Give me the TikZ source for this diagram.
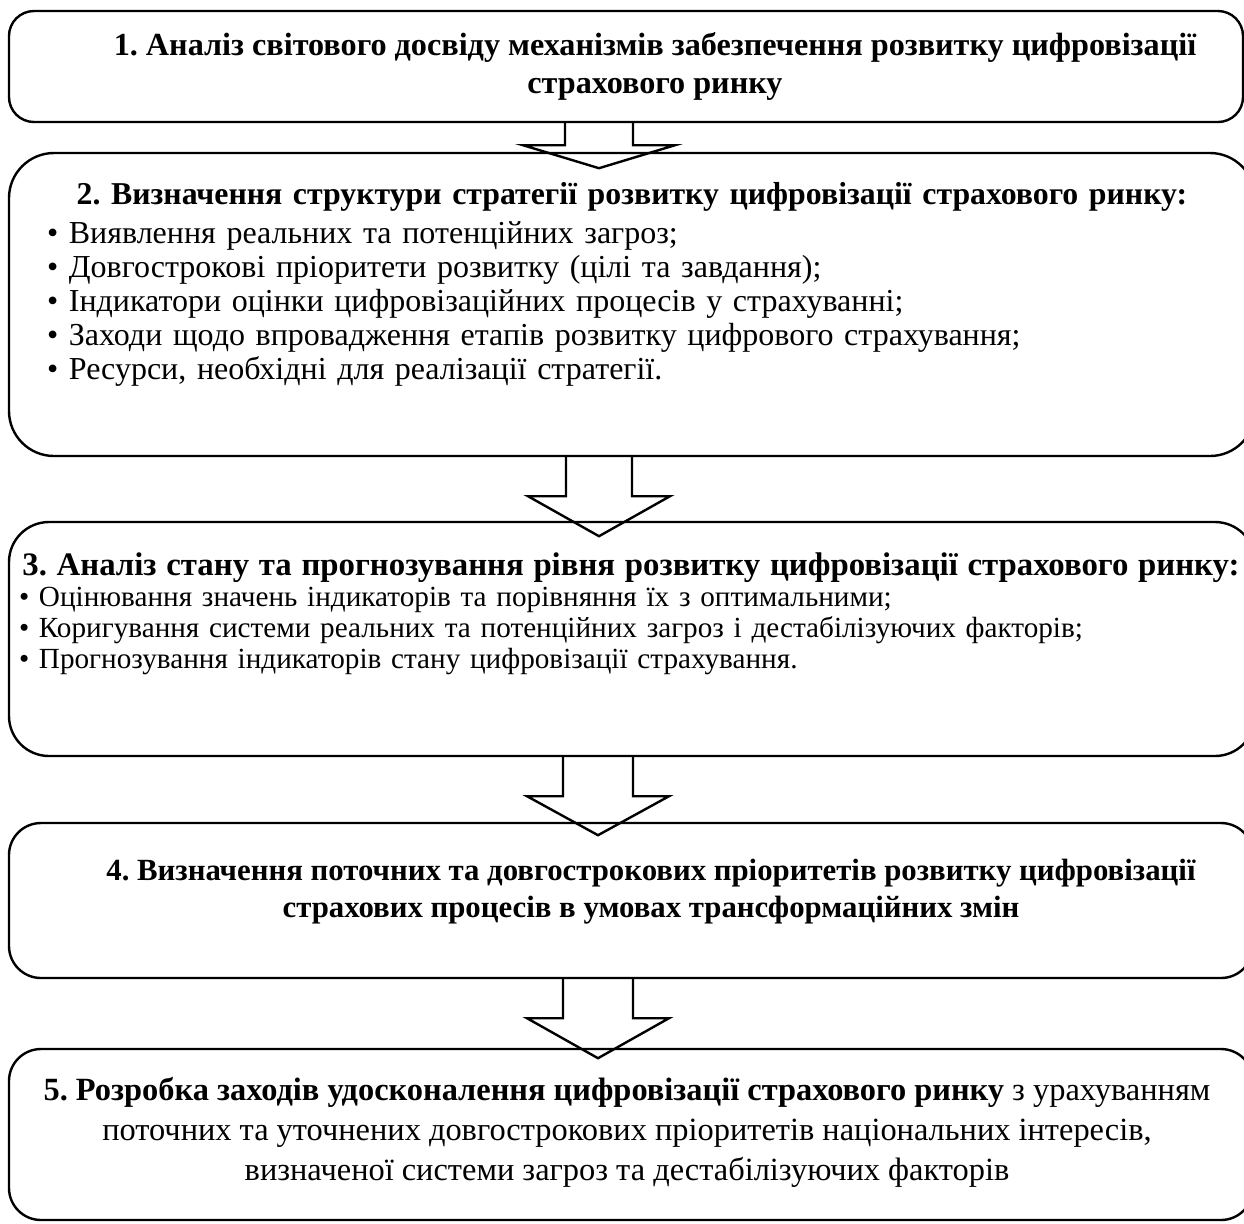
\documentclass[tikz,border=0pt]{standalone}
\usepackage{fontspec}
\setmainfont{Liberation Serif}
\frenchspacing

\begin{document}
\begin{tikzpicture}[x=0.5pt, y=-0.5pt,
		box/.style={draw, line width=1.2pt, inner sep=0pt},
		txt/.style={inner sep=0pt, align=center},
		fatarrow/.style={draw, line width=1.2pt, line join=miter}]
			\useasboundingbox (0,0) rectangle (1244,1223);

			\node[box, rounded corners=12.5pt, minimum width=617pt, minimum height=55.5pt] (b1) at (626,66.5) {};
			\node[box, rounded corners=22.5pt, minimum width=623pt, minimum height=151.5pt] (b2) at (632,304.5) {};
			\node[box, rounded corners=20pt, minimum width=623pt, minimum height=117pt] (b3) at (632,639) {};
			\node[box, rounded corners=16pt, minimum width=622pt, minimum height=77.5pt] (b4) at (631,900.5) {};
			\node[box, rounded corners=16pt, minimum width=622pt, minimum height=85.5pt] (b5) at (631,1134.5) {};

			\node[txt, font=\fontsize{16.1}{19}\selectfont\bfseries] (t1) at (655,66) {1. Аналіз світового досвіду механізмів забезпечення розвитку цифровізації\\страхового ринку};

			\node[txt, align=left, text width=585pt, font=\fontsize{16}{17}\selectfont] (t2) at (632,284.5) {{\centering\fontsize{15.9}{17}\selectfont\bfseries 2. Визначення структури стратегії розвитку цифровізації страхового ринку:\par}\vspace{2.5pt}%
				• Виявлення реальних та потенційних загроз;\\
				• Довгострокові пріоритети розвитку (цілі та завдання);\\
				• Індикатори оцінки цифровізаційних процесів у страхуванні;\\
				• Заходи щодо впровадження етапів розвитку цифрового страхування;\\
				• Ресурси, необхідні для реалізації стратегії.};

			\node[txt, align=left, text width=612pt, font=\fontsize{14.6}{15.5}\selectfont] (t3) at (631,614) {{\centering\fontsize{16.4}{17}\selectfont\bfseries 3. Аналіз стану та прогнозування рівня розвитку цифровізації страхового ринку:\par}%
				• Оцінювання значень індикаторів та порівняння їх з оптимальними;\\
				• Коригування системи реальних та потенційних загроз і дестабілізуючих факторів;\\
				• Прогнозування індикаторів стану цифровізації страхування.};

			\node[txt, font=\fontsize{15.4}{18.5}\selectfont\bfseries] (t4) at (651,891.5) {4. Визначення поточних та довгострокових пріоритетів розвитку цифровізації\\страхових процесів в умовах трансформаційних змін};

			\node[txt, font=\fontsize{16.2}{20}\selectfont] (t5) at (627,1132.5) {\textbf{5. Розробка заходів удосконалення цифровізації страхового ринку} з урахуванням\\поточних та уточнених довгострокових пріоритетів національних інтересів,\\визначеної системи загроз та дестабілізуючих факторів};

			% block arrows between the steps
			\draw[fatarrow] (b1.south) ++(-61,0) -- ++(0,22) -- ++(-42,0) -- ++(76,23) -- ++(76,-23) -- ++(-42,0) -- ++(0,-22);
			\draw[fatarrow] (b2.south) ++(-66,0) -- ++(0,39) -- ++(-38,0) -- ++(71,40) -- ++(71,-40) -- ++(-38,0) -- ++(0,-39);
			\draw[fatarrow] (b3.south) ++(-69,0) -- ++(0,39) -- ++(-36,0) -- ++(71,39) -- ++(71,-39) -- ++(-36,0) -- ++(0,-39);
			\draw[fatarrow] (b4.south) ++(-68,0) -- ++(0,39) -- ++(-36,0) -- ++(71,40) -- ++(71,-40) -- ++(-36,0) -- ++(0,-39);
		\end{tikzpicture}
\end{document}
